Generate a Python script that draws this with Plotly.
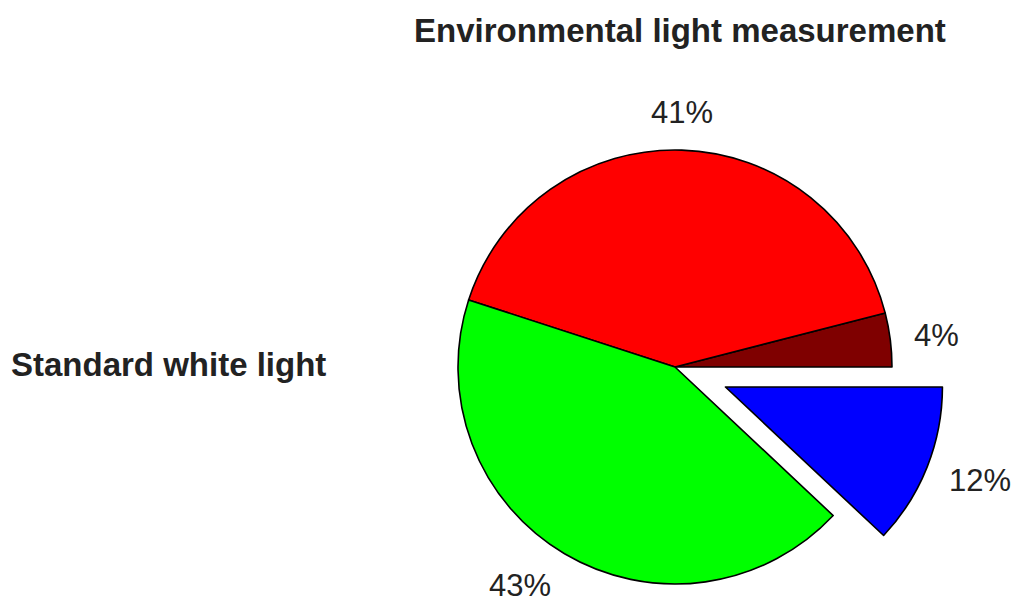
import math
import plotly.graph_objects as go

# ---- data ----
slice_names = ["Dark red", "Red", "Green", "Blue"]
slice_values = [4, 41, 43, 12]
slice_colors = ["#7f0000", "#ff0000", "#00ff00", "#0000ff"]
exploded = [False, False, False, True]
title_text = "Environmental light measurement"
side_label = "Standard white light"

# ---- layout constants (pixels) ----
W, H = 1021, 604
CX, CY = 675, 367        # pie centre
R = 217                  # pie radius
PULL = 0.25              # explode distance as fraction of radius
LABEL_R = 1.1            # label anchor distance as fraction of radius
FONT = "Liberation Sans, Arial, Helvetica, sans-serif"
TXT = "#222222"
TRANSPARENT = "rgba(0,0,0,0)"
PCT_SIZE = 31
LINE_W = 1.6

total = sum(slice_values)
# first slice starts at 3 o'clock and runs counter-clockwise
rotation = 90 - 360.0 * slice_values[0] / total
mids = []
acc = 0.0
for v in slice_values:
    span = 360.0 * v / total
    mids.append(acc + span / 2)
    acc += span


def px_domain(cx, cy, r):
    return dict(x=[(cx - r) / W, (cx + r) / W], y=[max(0, 1 - (cy + r) / H), min(1, 1 - (cy - r) / H)])


fig = go.Figure()

# main (non-exploded) slices
fig.add_trace(go.Pie(
    labels=slice_names, values=slice_values, sort=False,
    direction="counterclockwise", rotation=rotation,
    marker=dict(colors=[TRANSPARENT if e else c for c, e in zip(slice_colors, exploded)],
                line=dict(color=[TRANSPARENT if e else "black" for e in exploded], width=LINE_W)),
    textinfo="none", hoverinfo="label+percent",
    domain=px_domain(CX, CY, R), showlegend=False,
))

# exploded slice(s), drawn as a shifted copy of the same pie
ex_idx = [i for i, e in enumerate(exploded) if e]
mid_ex = mids[ex_idx[0]]
dx = PULL * R * math.cos(math.radians(mid_ex))
dy = -PULL * R * math.sin(math.radians(mid_ex))
ECX, ECY = CX + dx, CY + dy
fig.add_trace(go.Pie(
    labels=slice_names, values=slice_values, sort=False,
    direction="counterclockwise", rotation=rotation,
    marker=dict(colors=[c if e else TRANSPARENT for c, e in zip(slice_colors, exploded)],
                line=dict(color=["black" if e else TRANSPARENT for e in exploded], width=LINE_W)),
    textinfo="none", hoverinfo="label+percent",
    domain=px_domain(ECX, ECY, R), showlegend=False,
))

annotations = []
for i, (v, m, e) in enumerate(zip(slice_values, mids, exploded)):
    cx, cy = (ECX, ECY) if e else (CX, CY)
    c, s = math.cos(math.radians(m)), math.sin(math.radians(m))
    lx = cx + LABEL_R * R * c
    ly = cy - LABEL_R * R * s
    xanchor = "left" if c > 0.3 else ("right" if c < -0.3 else "center")
    annotations.append(dict(
        text=f"{round(100 * v / total)}%", x=lx / W, y=1 - ly / H,
        xref="paper", yref="paper", xanchor=xanchor, yanchor="middle",
        yshift=s * PCT_SIZE / 2,
        showarrow=False, font=dict(family=FONT, size=PCT_SIZE, color=TXT),
    ))

annotations.append(dict(
    text=f"<b>{title_text}</b>", x=680 / W, y=1 - 31 / H,
    xref="paper", yref="paper", xanchor="center", yanchor="middle",
    showarrow=False, font=dict(family=FONT, size=33, color=TXT),
))
annotations.append(dict(
    text=f"<b>{side_label}</b>", x=9 / W, y=1 - 364 / H,
    xref="paper", yref="paper", xanchor="left", yanchor="middle",
    showarrow=False, font=dict(family=FONT, size=33, color=TXT),
))

fig.update_layout(
    width=W, height=H,
    margin=dict(l=0, r=0, t=0, b=0),
    paper_bgcolor="white", plot_bgcolor="white",
    annotations=annotations,
)

fig.write_html("out.html", config={"displayModeBar": False})
